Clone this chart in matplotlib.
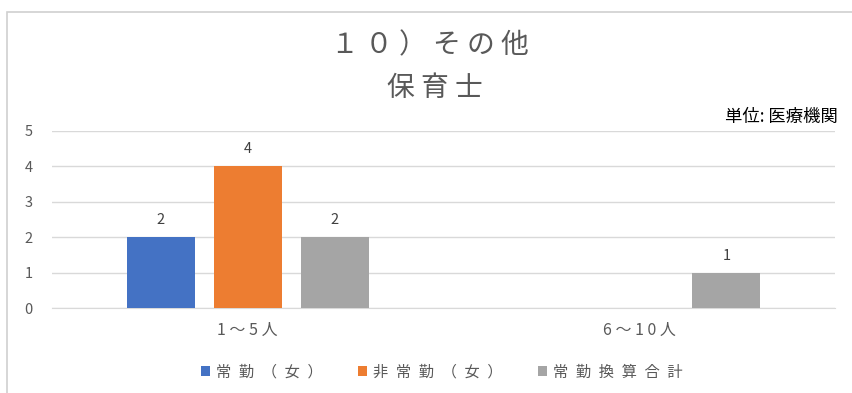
import numpy as np
import matplotlib
matplotlib.use("Agg")
import matplotlib.pyplot as plt
from matplotlib.patches import Rectangle

plt.rcParams['font.family'] = ['Noto Sans CJK JP', 'DejaVu Sans']

title_main = "１０）その他"
title_sub = "保育士"
unit_label = "単位: 医療機関"
categories = ["1～5人", "6～10人"]
series_names = ["常勤（女）", "非常勤（女）", "常勤換算合計"]
series_values = [
    [2, np.nan],
    [4, np.nan],
    [2, 1],
]
series_colors = ["#4472C4", "#ED7D31", "#A5A5A5"]
y_ticks = [0, 1, 2, 3, 4, 5]


def spaced(s, sep=" "):
    """Letter-spaced version of a label."""
    return sep.join(s)


fig = plt.figure(figsize=(8.53, 3.93), dpi=100)
fig.patch.set_facecolor("white")

# outer chart frame
fig.add_artist(Rectangle((7 / 853, -0.05), 1.2, (393 - 12) / 393 + 0.05,
                         transform=fig.transFigure, fill=False,
                         edgecolor="#D0D0D0", linewidth=1.2))

ax = fig.add_axes([52 / 853, 85 / 393, (835 - 52) / 853, (308 - 131) / 393])
x = np.arange(len(categories))
step = 0.2225
width = 0.174
for i, (name, vals, col) in enumerate(zip(series_names, series_values, series_colors)):
    pos = x + (i - 1) * step
    vals = np.array(vals, dtype=float)
    ax.bar(pos, vals, width=width, color=col,
           label=spaced(name, "\u2002"), zorder=3)
    for p, v in zip(pos, vals):
        if not np.isnan(v):
            ax.text(p, v + 0.28, f"{v:g}", ha="center", va="bottom",
                    fontsize=10.5, color="#404040")

ax.set_xlim(-0.5, len(categories) - 0.5)
ax.set_ylim(0, 5)
ax.set_yticks(y_ticks)
ax.set_yticklabels([str(t) for t in y_ticks], fontsize=10.5, color="#595959")
ax.set_xticks(x)
ax.set_xticklabels([spaced(c) for c in categories], fontsize=11.5, color="#595959")
ax.tick_params(axis="both", length=0)
ax.tick_params(axis="y", pad=14)
ax.tick_params(axis="x", pad=10)
ax.grid(axis="y", color="#D9D9D9", linewidth=1, zorder=0)
for s in ["top", "right", "left"]:
    ax.spines[s].set_visible(False)
ax.spines["bottom"].set_color("#D9D9D9")

fig.text(430 / 853, 1 - 45 / 393, spaced(title_main), ha="center", va="center",
         fontsize=20, color="#595959")
fig.text(435 / 853, 1 - 88 / 393, spaced(title_sub), ha="center", va="center",
         fontsize=20, color="#595959")
fig.text(838 / 853, 1 - 117 / 393, unit_label, ha="right", va="center",
         fontsize=12.5, color="#000000")

fig.legend(loc="center", bbox_to_anchor=(442 / 853, 1 - 372 / 393), ncol=3,
           frameon=False, fontsize=11, handlelength=0.6, handleheight=0.6,
           columnspacing=2.3, handletextpad=0.4, labelcolor="#595959")

fig.savefig("out.png", dpi=100, facecolor="white")
